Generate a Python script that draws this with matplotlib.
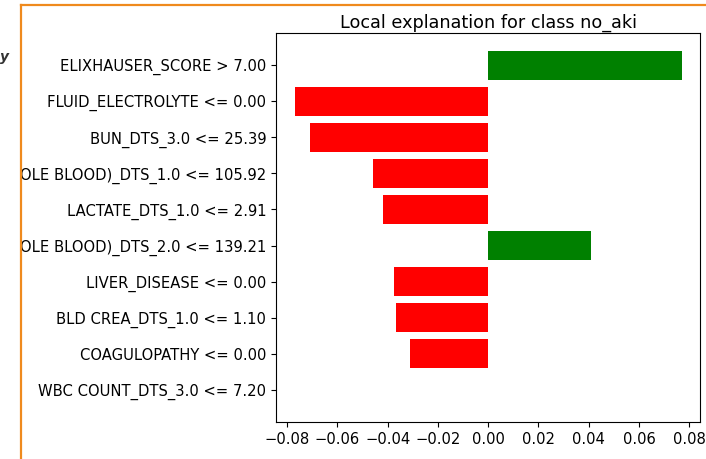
import numpy as np
import matplotlib.pyplot as plt
from matplotlib.lines import Line2D

# LIME feature weights for class no_aki (top to bottom)
features = [
    "ELIXHAUSER_SCORE > 7.00",
    "FLUID_ELECTROLYTE <= 0.00",
    "BUN_DTS_3.0 <= 25.39",
    "OLE BLOOD)_DTS_1.0 <= 105.92",
    "LACTATE_DTS_1.0 <= 2.91",
    "OLE BLOOD)_DTS_2.0 <= 139.21",
    "LIVER_DISEASE <= 0.00",
    "BLD CREA_DTS_1.0 <= 1.10",
    "COAGULOPATHY <= 0.00",
    "WBC COUNT_DTS_3.0 <= 7.20",
]
weights = [0.0772, -0.0767, -0.0708, -0.0457, -0.0417,
           0.0410, -0.0374, -0.0366, -0.0310, 0.0]

fig = plt.figure(figsize=(7.06, 4.59), dpi=100)
ax = fig.add_axes([0.391, 0.0806, 0.601, 0.8474])

vals = weights[::-1]
names = features[::-1]
pos = np.arange(len(vals))
colors = ['green' if v > 0 else 'red' for v in vals]
ax.barh(pos, vals, align='center', color=colors)
ax.set_yticks(pos)
ax.set_yticklabels(names, fontsize=10.6)
ax.set_xticks(np.arange(-0.08, 0.081, 0.02))
ax.set_xticklabels(['\u22120.08', '\u22120.06', '\u22120.04', '\u22120.02',
                    '0.00', '0.02', '0.04', '0.06', '0.08'], fontsize=10.6)
ax.set_xlim(-0.0844, 0.0844)
ax.set_title('Local explanation for class no_aki', fontsize=12.7, pad=4)

# notebook cell frame
orange = '#ef8a1d'
fig.add_artist(Line2D([21 / 706, 21 / 706], [0, 1 - 4.5 / 459],
                      transform=fig.transFigure, color=orange, lw=1.6))
fig.add_artist(Line2D([21 / 706, 1], [1 - 4.5 / 459, 1 - 4.5 / 459],
                      transform=fig.transFigure, color=orange, lw=1.6))
fig.text(0.0, 1 - 57 / 459, 'y', ha='left', va='center',
         fontsize=10, color='#333333', fontweight='bold', style='italic')

fig.savefig('out.png', dpi=100)
